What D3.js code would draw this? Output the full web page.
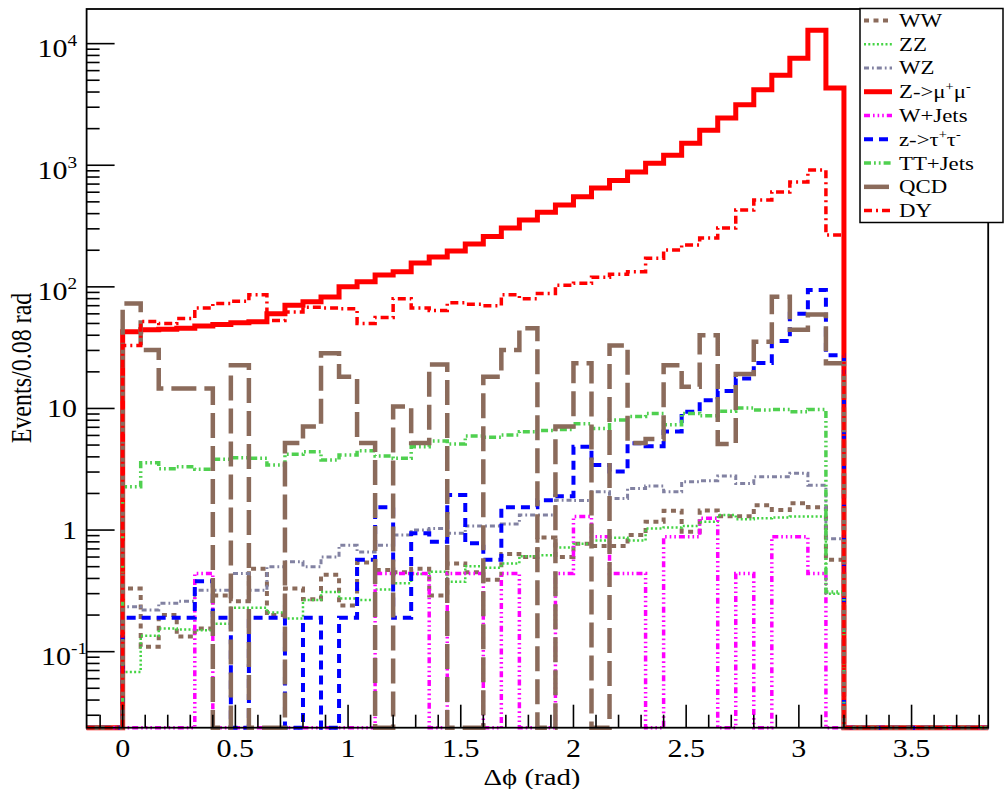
<!DOCTYPE html>
<html><head><meta charset="utf-8">
<script src="https://cdn.jsdelivr.net/npm/d3@7"></script>
<style>body{margin:0;background:#fff}svg{display:block}</style>
</head><body>
<svg id="chart" width="1005" height="789"></svg>
<script>
// Δφ distributions, 0.08 rad bins filled from 0 to 3.2 rad
const binWidth = 0.08;
const xRange = [-0.16, 3.84];
const yRange = [0.0237, 19270];

const ww     = [0.33,0.11,0.2,0.133,0.155,0.29,0.26,0.48,0.2,0.33,0.27,0.43,0.24,0.54,0.47,0.45,0.48,0.29,0.53,0.45,0.39,0.635,0.6,0.87,0.6,0.77,0.74,0.74,0.91,1.17,1.44,0.97,1.45,1.3,1.3,1.6,1.46,1.66,1.54,0.57];
const zz     = [0.068,0.135,0.155,0.152,0.15,0.17,0.23,0.23,0.21,0.187,0.266,0.31,0.274,0.266,0.325,0.365,0.435,0.455,0.375,0.505,0.49,0.53,0.61,0.62,0.72,0.77,0.82,0.865,0.82,1.03,1.05,1.08,1.17,1.33,1.23,1.25,1.27,1.29,1.29,0.3];
const wz     = [0.234,0.22,0.25,0.26,0.32,0.32,0.44,0.32,0.5,0.55,0.5,0.6,0.75,0.66,0.75,0.91,1.0,1.03,0.94,1.08,1.08,1.12,1.33,1.33,1.76,1.75,2.07,1.82,2.2,2.3,2.07,2.5,2.54,2.78,2.42,2.74,2.74,2.93,2.34,0.85];
const zmumu  = [42.7,44.3,44.8,45.6,47.6,49.1,50.6,51.6,60.2,70.6,75.5,82.4,100,110,125,133,157,176,197,225,260,305,355,410,470,550,650,750,880,1040,1210,1520,1940,2450,3150,4170,5500,7600,12900,4310];
const wjets  = [0,0,0,0,0.44,0,0,0,0,0,0,0,0,0,0.44,0.44,0.44,0,0.44,0.44,0,0.44,0,0,0.44,1.29,0.88,0.44,0.44,0,0.88,0.88,1.25,0,0.44,0,0.88,0.88,0.44,0];
const ztautau= [0.19,0.19,0.19,0.19,0.38,0.19,0,0.19,0.19,0,0.19,0,0.19,0.57,1.54,0.19,0.94,0.8,1.94,0.78,0.57,1.54,1.54,1.76,1.9,4.84,3.43,3.03,5.17,4.9,6.47,9.4,11.7,13.9,17.6,23.7,35.8,60,94,27.4];
const ttjets = [2.27,3.57,3.2,3.32,3.17,3.83,3.94,3.89,3.43,4.2,4.4,3.76,4.14,4.5,4.06,3.89,4.84,5.4,5.1,5.93,5.8,6.05,6.43,6.6,6.7,7.5,6.85,8.05,8.6,9.1,7.35,9.1,8.7,9.5,10.1,9.7,9.8,9.4,9.8,0.31];
const qcd    = [73,30.2,14.6,14.6,14.6,0,22.7,0,0,5.2,7.1,28.4,18.2,5.2,0,10.4,5.2,23,0,0,18.2,30.2,45.6,0,7.1,23.5,0,33,5.2,5.6,22.7,15.1,40,5.1,19.2,35.4,83,44.3,59.3,23.5];
const dy     = [33,52,50,55,67,73,76,86,53,62,68,67,66,50,56,80,67,64,74,72,70,86,80,88,103,107,120,127,133,172,201,221,252,305,428,517,603,728,914,267];

const xTicks = [0,0.5,1,1.5,2,2.5,3,3.5];
const xTickLabels = ["0","0.5","1","1.5","2","2.5","3","3.5"];
const yTicks = [0.1,1,10,100,1000,10000];
const yTickLabels = [["10","-1"],["1",""],["10",""],["10","2"],["10","3"],["10","4"]];

const legendLabels = [
  [["WW"]], [["ZZ"]], [["WZ"]],
  [["Z->\u03bc"],["+","sup"],["\u03bc"],["-","sup"]],
  [["W+Jets"]],
  [["z->\u03c4"],["+","sup"],["\u03c4"],["-","sup"]],
  [["TT+Jets"]], [["QCD"]], [["DY"]]
];

const series = [
  {values: ww,      color:"#8b6b5b", width:4,   dash:"5,4.5"},
  {values: zz,      color:"#44d444", width:2.5, dash:"2,2.3"},
  {values: wz,      color:"#8282a2", width:3,   dash:"5,3,1.8,3"},
  {values: zmumu,   color:"#ff0000", width:5,   dash:null},
  {values: wjets,   color:"#ff00ff", width:3.5, dash:"6,3,1.6,3,1.6,3,1.6,3"},
  {values: ztautau, color:"#0000ff", width:4,   dash:"9,6"},
  {values: ttjets,  color:"#4fd04f", width:3.5, dash:"7,3,1.8,3,1.8,3"},
  {values: qcd,     color:"#8b6b5b", width:4.5, dash:"25,8"},
  {values: dy,      color:"#ff0000", width:3.5, dash:"8,4,2,4"}
];

const FONT = "'Liberation Serif','Times New Roman',serif";
const SX = 1.2; // horizontal glyph stretch

const svg = d3.select("#chart");
const frame = {left:86.6, right:988.2, top:9, bottom:727.7};
const x = d3.scaleLinear().domain(xRange).range([frame.left, frame.right]);
const y = d3.scaleLog().domain(yRange).range([frame.bottom, frame.top]);

// full bin grid across the axis, empty outside the filled range
const nBins = Math.round((xRange[1]-xRange[0])/binWidth);
const offset = Math.round((0 - xRange[0])/binWidth);
function fullBins(vals){
  const out = new Array(nBins).fill(0);
  vals.forEach((v,i)=>{ out[i+offset] = v; });
  return out;
}
const yOf = v => v > 0 ? y(Math.max(v, yRange[0])) : y(yRange[0]);

function stepPath(vals){
  const full = fullBins(vals);
  const pts = [];
  full.forEach((v,i)=>{
    const x0 = x(xRange[0] + i*binWidth), x1 = x(xRange[0] + (i+1)*binWidth);
    pts.push([x0, yOf(v)], [x1, yOf(v)]);
  });
  return d3.line()(pts);
}

const gHist = svg.append("g");
series.forEach(s=>{
  gHist.append("path")
    .attr("d", stepPath(s.values))
    .attr("fill","none")
    .attr("stroke", s.color)
    .attr("stroke-width", s.width)
    .attr("stroke-dasharray", s.dash)
    .attr("stroke-linejoin","miter");
});

// frame
svg.append("rect")
  .attr("x",frame.left).attr("y",frame.top)
  .attr("width",frame.right-frame.left).attr("height",frame.bottom-frame.top)
  .attr("fill","none").attr("stroke","#000").attr("stroke-width",1.8);

// x axis ticks (major every 0.5, minor every 0.1), drawn inward
const gx = svg.append("g").attr("stroke","#000").attr("stroke-width",1.6);
d3.range(-1, 39).forEach(k=>{
  const v = k/10;
  if (v < xRange[0] || v > xRange[1]) return;
  const major = (k % 5 === 0);
  gx.append("line").attr("x1",x(v)).attr("x2",x(v))
    .attr("y1",frame.bottom).attr("y2",frame.bottom-(major?23:13));
});
xTicks.forEach((v,i)=>{
  svg.append("text")
    .attr("transform",`translate(${x(v)},756.5) scale(${SX},1)`)
    .attr("text-anchor","middle").attr("font-family",FONT).attr("font-size",25)
    .text(xTickLabels[i]);
});

// y axis ticks (decades + 2..9 sub-ticks), drawn inward
const gy = svg.append("g").attr("stroke","#000").attr("stroke-width",1.6);
for (let e=-2; e<=4; e++){
  for (let m=1; m<=9; m++){
    const v = m*Math.pow(10,e);
    if (v < yRange[0] || v > yRange[1]) continue;
    gy.append("line").attr("x1",frame.left).attr("x2",frame.left+(m===1?28:13))
      .attr("y1",y(v)).attr("y2",y(v));
  }
}
yTicks.forEach((v,i)=>{
  const [base, sup] = yTickLabels[i];
  const neg = sup.startsWith("-");
  const t = svg.append("text")
    .attr("transform",`translate(${neg?87:77},${y(v)+(sup?13.5:8.5)}) scale(${SX},1)`)
    .attr("text-anchor","end").attr("font-family",FONT).attr("font-size",25);
  t.append("tspan").text(base);
  if (sup) t.append("tspan").attr("font-size",16).attr("dy",-11).text(sup);
});

// axis titles
svg.append("text")
  .attr("transform",`translate(532,785) scale(${SX},1)`)
  .attr("text-anchor","middle").attr("font-family",FONT).attr("font-size",24)
  .text("\u0394\u03d5 (rad)");
svg.append("text")
  .attr("transform",`translate(31,368) rotate(-90) scale(1,${SX})`)
  .attr("text-anchor","middle").attr("font-family",FONT).attr("font-size",24)
  .text("Events/0.08 rad");

// legend
const leg = {x0:860, y0:8.5, x1:1003, y1:222.5};
svg.append("rect").attr("x",leg.x0).attr("y",leg.y0)
  .attr("width",leg.x1-leg.x0).attr("height",leg.y1-leg.y0)
  .attr("fill","#fff").attr("stroke","#000").attr("stroke-width",1.5);
const rowH = (leg.y1-leg.y0)/9;
series.forEach((s,i)=>{
  const cy = leg.y0 + rowH*(i+0.5);
  svg.append("line").attr("x1",864).attr("x2",892).attr("y1",cy).attr("y2",cy)
    .attr("stroke",s.color).attr("stroke-width",s.width)
    .attr("stroke-dasharray",s.dash);
  const t = svg.append("text")
    .attr("transform",`translate(899,${cy+6.5}) scale(${SX},1)`)
    .attr("font-family",FONT).attr("font-size",19);
  legendLabels[i].forEach(([txt,kind])=>{
    const ts = t.append("tspan").text(txt);
    if (kind==="sup") ts.attr("font-size",12).attr("dy",-7);
    else if (t.selectAll("tspan").size()>1) ts.attr("dy",7);
  });
});
</script>
</body></html>
